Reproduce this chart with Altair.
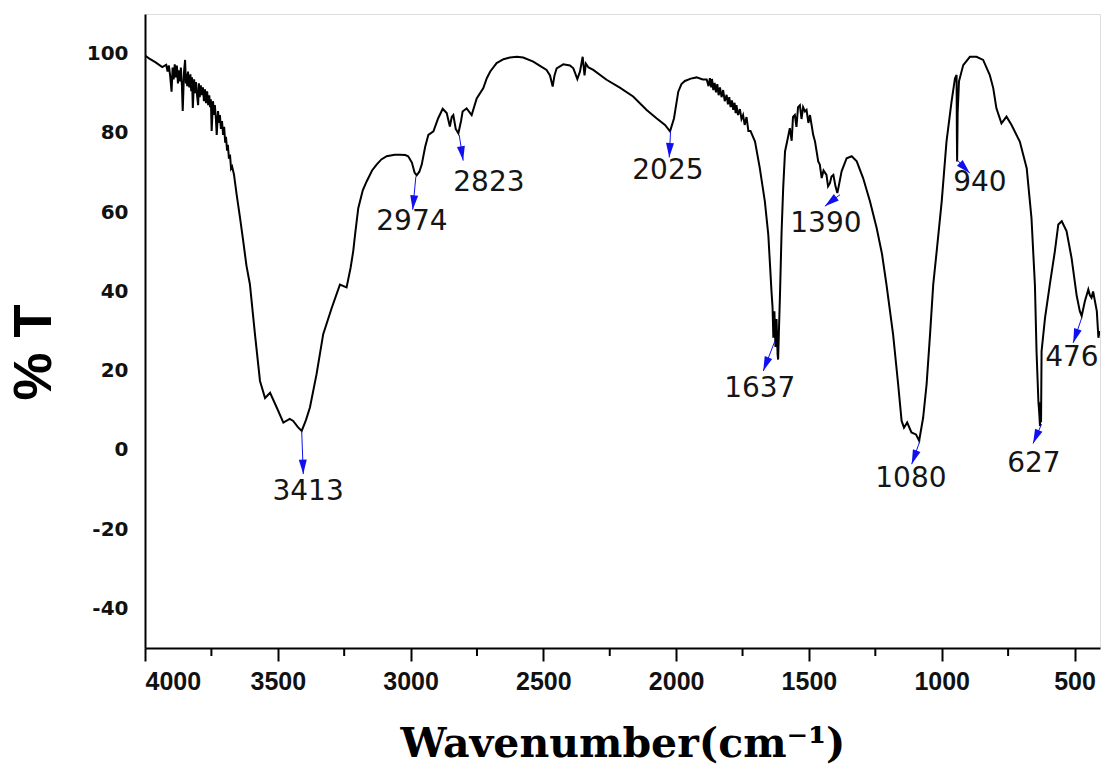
import altair as alt
import pandas as pd

# ---- spectrum ----
wavenumber = [4000, 3985, 3960, 3935, 3920, 3915, 3910, 3905, 3900, 3896, 3892, 3888, 3884, 3880, 3876,
              3872, 3868, 3865, 3861, 3858, 3853, 3849, 3846, 3844, 3841, 3838, 3835, 3832, 3829, 3826,
              3823, 3820, 3815, 3812, 3808, 3804, 3800, 3797, 3794, 3790, 3786, 3782, 3778, 3774, 3770,
              3766, 3762, 3758, 3755, 3752, 3749, 3744, 3740, 3737, 3733, 3730, 3725, 3721, 3718, 3714,
              3710, 3706, 3702, 3698, 3695, 3691, 3688, 3684, 3680, 3676, 3672, 3665, 3655, 3642, 3630,
              3618, 3605, 3586, 3567, 3548, 3529, 3504, 3479, 3455, 3442, 3425, 3410, 3394, 3379, 3354,
              3329, 3297, 3266, 3241, 3226, 3216, 3209, 3197, 3180, 3165, 3145, 3128, 3110, 3090, 3060,
              3040, 3020, 3009, 2995, 2985, 2977, 2967, 2958, 2945, 2933, 2914, 2896, 2879, 2864, 2852,
              2845, 2839, 2830, 2820, 2810, 2804, 2789, 2770, 2751, 2726, 2713, 2700, 2676, 2650, 2626,
              2600, 2576, 2538, 2505, 2488, 2475, 2465, 2458, 2450, 2425, 2400, 2387, 2372, 2362, 2352,
              2345, 2340, 2330, 2312, 2262, 2212, 2162, 2111, 2074, 2042, 2023, 2008, 1992, 1980, 1967,
              1945, 1923, 1900, 1885, 1878, 1873, 1868, 1865, 1860, 1855, 1850, 1845, 1840, 1835, 1829,
              1823, 1817, 1810, 1805, 1800, 1795, 1790, 1785, 1780, 1776, 1773, 1767, 1760, 1754, 1748,
              1742, 1735, 1728, 1720, 1703, 1685, 1666, 1653, 1646, 1641, 1637, 1634, 1630, 1626, 1622,
              1618, 1616, 1613, 1609, 1603, 1597, 1590, 1580, 1572, 1565, 1560, 1553, 1547, 1541, 1534,
              1528, 1522, 1515, 1509, 1502, 1496, 1484, 1477, 1465, 1459, 1452, 1445, 1434, 1428, 1421,
              1415, 1408, 1400, 1393, 1385, 1377, 1358, 1339, 1320, 1296, 1270, 1245, 1225, 1208, 1183,
              1164, 1151, 1142, 1130, 1114, 1097, 1085, 1070, 1057, 1044, 1032, 1019, 1000, 982, 963,
              950, 944, 943, 942, 940, 935, 919, 894, 869, 844, 819, 806, 794, 775, 756,
              737, 706, 680, 662, 649, 643, 636, 632, 630, 628, 626, 624, 611, 593, 574,
              561, 548, 530, 511, 492, 480, 473, 461, 448, 442, 436, 430, 423, 416, 410, 405]
transmittance = [99.5, 98.8, 97.8, 96.6, 97.2, 95.5, 97.0, 94.2, 90.4, 96.5, 93.5, 97.3, 94.0, 97.0, 92.5,
                 95.8, 93.0, 96.5, 92.0, 85.5, 95.5, 98.4, 92.5, 95.0, 91.8, 95.5, 92.0, 91.5, 94.8, 90.5,
                 94.0, 86.3, 93.5, 90.0, 92.8, 89.5, 87.0, 92.5, 89.0, 92.0, 89.5, 91.5, 88.0, 91.0, 87.5,
                 90.5, 87.0, 89.5, 86.5, 88.5, 80.5, 88.0, 84.5, 87.0, 83.5, 79.5, 85.5, 82.5, 84.5, 81.0,
                 83.0, 79.5, 81.5, 77.5, 79.0, 75.5, 77.0, 73.5, 74.5, 71.0, 71.5, 69.5, 64.5, 58.5, 52.6,
                 46.5, 41.8, 29.2, 17.4, 13.1, 14.4, 10.7, 6.9, 7.8, 7.3, 5.8, 4.8, 7.5, 10.7, 19.1,
                 29.2, 35.8, 41.7, 41.0, 45.9, 50.1, 54.3, 61.0, 65.5, 67.8, 70.5, 72.0, 73.3, 74.1, 74.5,
                 74.5, 74.4, 74.1, 72.5, 70.0, 69.3, 70.2, 72.0, 76.5, 79.5, 80.4, 83.7, 86.1, 85.0, 81.6,
                 84.0, 84.5, 81.0, 79.9, 83.0, 85.4, 86.2, 84.5, 88.7, 91.3, 93.8, 95.5, 97.6, 98.6, 99.0,
                 99.2, 99.0, 98.0, 96.6, 95.9, 94.5, 91.7, 94.5, 96.3, 97.3, 97.0, 96.3, 93.6, 95.5, 99.2,
                 94.5, 97.5, 96.5, 95.9, 93.4, 91.4, 89.2, 85.8, 83.7, 82.0, 80.4, 83.7, 90.4, 92.3, 93.1,
                 93.7, 94.0, 93.5, 93.5, 91.8, 93.8, 91.5, 93.6, 90.8, 92.6, 90.2, 92.3, 89.5, 91.5, 89.0,
                 90.8, 88.0, 89.6, 87.2, 89.0, 86.5, 88.2, 85.8, 87.6, 85.0, 87.0, 84.5, 86.0, 83.5, 84.5,
                 82.0, 84.0, 80.5, 80.5, 77.8, 71.1, 62.7, 54.3, 46.0, 40.0, 36.0, 28.3, 35.0, 26.0, 33.0,
                 24.0, 22.8, 30.0, 39.2, 55.0, 66.0, 75.3, 78.5, 81.2, 78.0, 84.0, 84.5, 81.5, 86.5, 87.0,
                 83.5, 86.5, 85.4, 85.8, 82.5, 84.5, 79.5, 77.8, 72.8, 72.0, 68.6, 70.5, 69.4, 66.5, 67.3,
                 69.0, 69.4, 66.5, 64.8, 67.5, 70.3, 73.6, 74.1, 72.8, 68.6, 62.7, 56.0, 49.5, 41.7, 29.1,
                 16.5, 7.3, 5.6, 6.9, 4.4, 3.9, 2.3, 8.1, 16.5, 29.1, 41.7, 50.1, 62.7, 77.8, 87.9,
                 93.8, 94.6, 80.0, 72.8, 85.0, 93.0, 97.1, 99.2, 99.2, 98.4, 94.6, 91.3, 86.2, 82.4, 84.1,
                 82.0, 77.8, 71.1, 58.5, 41.5, 24.9, 12.3, 8.5, 6.0, 12.0, 7.0, 24.9, 33.3, 41.7, 50.1,
                 56.9, 57.7, 55.2, 48.4, 39.0, 35.0, 33.8, 37.5, 40.5, 39.0, 38.4, 40.0, 37.5, 35.0, 28.3, 30.0]

# ---- peak annotations ----
peak_labels = ["3413", "2974", "2823", "2025", "1390", "940", "1637", "1080", "627", "476"]
label_x = [3386, 2995, 2705, 2031, 1436, 856, 1685, 1116, 653, 510]
label_y = [-10.6, 57.4, 67.3, 70.3, 56.9, 67.3, 15.4, -7.3, -3.5, 23.2]
arrow_x0 = [3410, 2980, 2817, 2021, 1383, 942, 1628, 1082, 624, 473]
arrow_y0 = [4.8, 69.0, 79.5, 80.4, 64.4, 73.2, 27.5, 2.3, 6.5, 33.3]
arrow_x1 = [3404, 2992, 2802, 2026, 1440, 894, 1672, 1113, 656, 505]
arrow_y1 = [-6.1, 60.6, 73.0, 73.8, 61.5, 69.8, 19.9, -3.6, 1.6, 27.0]
arrow_angle = [178, 186, 171, 183, 232, 136, 201, 200, 203, 199]

major_ticks = [4000, 3500, 3000, 2500, 2000, 1500, 1000, 500]
minor_ticks = [3750, 3250, 2750, 2250, 1750, 1250, 750]
y_ticks = [-40, -20, 0, 20, 40, 60, 80, 100]

spec = pd.DataFrame({"wn": wavenumber, "t": transmittance})
ann = pd.DataFrame({"label": peak_labels, "lx": label_x, "ly": label_y,
                    "x0": arrow_x0, "y0": arrow_y0, "x1": arrow_x1, "y1": arrow_y1,
                    "ang": arrow_angle})
minor = pd.DataFrame({"m": minor_ticks})

PLOT_H = 634
x_scale = alt.Scale(domain=[4000, 404], nice=False, zero=False)
y_scale = alt.Scale(domain=[-50, 110], nice=False, zero=False)

x_axis = alt.Axis(
    values=major_ticks, format="d",
    tickSize=13, tickWidth=2, tickColor="black", domainColor="black", domainWidth=2,
    labelFont="Liberation Sans", labelFontWeight="bold", labelFontSize=25, labelColor="#111",
    labelPadding=8, grid=False,
    title="Wavenumber(cm\u207b\u00b9)", titleFont="DejaVu Serif", titleFontWeight="bold",
    titleFontSize=41, titleColor="black", titleBaseline="alphabetic", titleY=108,
)
y_axis = alt.Axis(
    values=y_ticks, ticks=False, domainColor="black", domainWidth=2, grid=False,
    labelExpr="toString(datum.value)",
    labelFont="DejaVu Sans", labelFontWeight="bold", labelFontSize=20, labelColor="#111",
    labelPadding=17,
    title="% T", titleFont="Liberation Sans", titleFontWeight="bold", titleFontSize=54,
    titleColor="black", titleAngle=270, titleAlign="center", titleBaseline="middle",
    titleX=-111, titleY=338,
)

line = alt.Chart(spec).mark_line(color="black", strokeWidth=2, clip=True).encode(
    x=alt.X("wn:Q", scale=x_scale, axis=x_axis),
    y=alt.Y("t:Q", scale=y_scale, axis=y_axis),
    order="wn:Q",
)

minor_rules = alt.Chart(minor).mark_rule(color="black", strokeWidth=2).encode(
    x=alt.X("m:Q", scale=x_scale),
    y=alt.value(PLOT_H), y2=alt.value(PLOT_H + 8),
)

shafts = alt.Chart(ann).mark_rule(color="#1010ee", strokeWidth=1).encode(
    x=alt.X("x0:Q", scale=x_scale), y=alt.Y("y0:Q", scale=y_scale),
    x2="x1:Q", y2="y1:Q",
)

heads = alt.Chart(ann).mark_point(
    shape="M0,0L-0.55,2L0.55,2Z", filled=True, color="#1010ee", opacity=1, size=210, strokeWidth=0
).encode(
    x=alt.X("x1:Q", scale=x_scale), y=alt.Y("y1:Q", scale=y_scale),
    angle=alt.Angle("ang:Q", scale=None),
)

labels = alt.Chart(ann).mark_text(
    font="DejaVu Sans", fontSize=28, color="#151515", align="center", baseline="middle"
).encode(
    x=alt.X("lx:Q", scale=x_scale), y=alt.Y("ly:Q", scale=y_scale), text="label:N",
)

chart = alt.layer(line, minor_rules, shafts, heads, labels).properties(
    width=955, height=PLOT_H,
    autosize=alt.AutoSizeParams(type="none"),
    padding={"left": 145, "top": 14, "right": 3, "bottom": 128},
).configure_view(stroke="black", strokeWidth=2).configure(background="white")

chart.save("out.html", embed_options={"renderer": "svg", "actions": False})
